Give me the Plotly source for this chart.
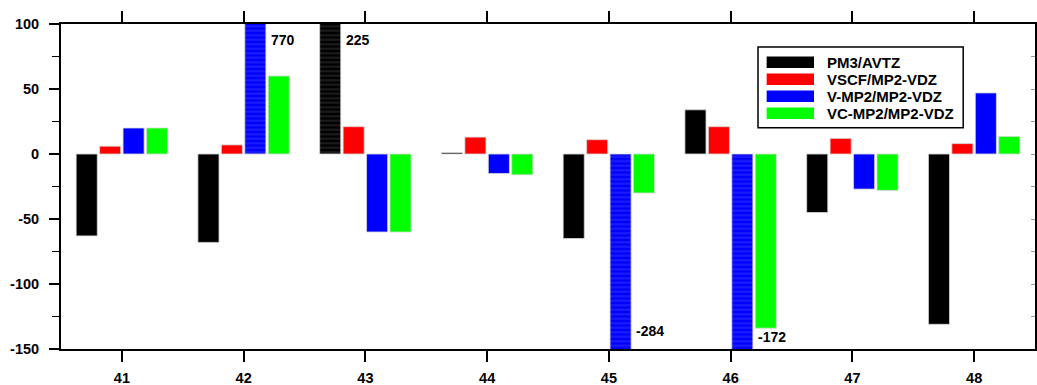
import plotly.graph_objects as go

# Vibrational mode numbers on the x axis
modes = [41, 42, 43, 44, 45, 46, 47, 48]

# Deviations for each method, one list per series
series_names = ["PM3/AVTZ", "VSCF/MP2-VDZ", "V-MP2/MP2-VDZ", "VC-MP2/MP2-VDZ"]
pm3_avtz = [-63, -68, 225, 1, -65, 34, -45, -131]
vscf_mp2 = [6, 7, 21, 13, 11, 21, 12, 8]
vmp2_mp2 = [20, 770, -60, -15, -284, -172, -27, 47]
vcmp2_mp2 = [20, 60, -60, -16, -30, -134, -28, 13.5]

# y tick labels (plain hyphen minus)
y_tickvals = [-150, -100, -50, 0, 50, 100]
y_ticktext = ["-150", "-100", "-50", "0", "50", "100"]

series_values = [pm3_avtz, vscf_mp2, vmp2_mp2, vcmp2_mp2]
colors = ["#000000", "#ff0000", "#0000ff", "#00ff00"]
stripe_colors = ["#3a3a3a", "#ff5555", "#3a3aff", "#55ff55"]

y_min, y_max = -150, 100
bargap, bargroupgap = 0.23, 0.1
font_family = "Liberation Sans, Arial, sans-serif"

fig = go.Figure()
for name, vals, col, scol in zip(series_names, series_values, colors, stripe_colors):
    # bars running past the axis range are drawn striped
    shapes_pat = ["-" if (v > y_max or v < y_min) else "" for v in vals]
    fig.add_trace(go.Bar(
        x=modes, y=vals, name=name, showlegend=False,
        marker=dict(
            color=col,
            line=dict(color="#d8d8d8", width=0.8),
            pattern=dict(shape=shapes_pat, fillmode="overlay", fgcolor=scol,
                         bgcolor=col, size=4.5, solidity=0.45),
        ),
    ))

# empty helper traces so the tick-only overlay axes get drawn
for ax in ("y2", "y3"):
    fig.add_trace(go.Scatter(x=[], y=[], yaxis=ax, showlegend=False,
                             hoverinfo="skip", mode="markers"))

# value labels for bars that leave the axis range
slot = (1 - bargap) / len(series_names)
annotations = []
for si, vals in enumerate(series_values):
    for m, v in zip(modes, vals):
        if v > y_max or v < y_min:
            right_edge = m - (1 - bargap) / 2 + slot * (si + 1) - slot * bargroupgap / 2
            if v > y_max:
                yp, ysh = 1, -15.5
            else:
                # keep the label clear of a neighbouring bar below it
                nxt = series_values[si + 1][modes.index(m)] if si + 1 < len(series_values) else 0
                ysh = 12.5 if nxt < -120 else 18
                yp = 0
            annotations.append(dict(
                x=right_edge, y=yp, xref="x", yref="paper", text=str(v),
                showarrow=False, xanchor="left", yanchor="middle",
                xshift=3, yshift=ysh,
                font=dict(family=font_family, size=14, color="black", weight="bold"),
            ))

# legend drawn as wide swatches inside a framed box
shapes = []
leg_x0, leg_x1 = 0.7156, 0.9263
leg_y0, leg_y1 = 0.681, 0.929
shapes.append(dict(type="rect", xref="paper", yref="paper", x0=leg_x0, x1=leg_x1,
                   y0=leg_y0, y1=leg_y1, line=dict(color="black", width=1.5),
                   fillcolor="white", layer="above"))
row_h = 17 / 325
first_row = 1 - (62.2 - 24) / 325
sw_h = 11.5 / 325
for i, (name, col) in enumerate(zip(series_names, colors)):
    yc = first_row - i * row_h
    shapes.append(dict(type="rect", xref="paper", yref="paper", x0=0.7245, x1=0.7731,
                       y0=yc - sw_h / 2, y1=yc + sw_h / 2, line=dict(width=0),
                       fillcolor=col, layer="above"))
    annotations.append(dict(x=0.7844, y=yc, xref="paper", yref="paper", text=name,
                            showarrow=False, xanchor="left", yanchor="middle",
                            font=dict(family=font_family, size=15, color="black",
                                      weight="bold")))

tick_font = dict(family=font_family, size=14.5, color="black", weight="bold")

fig.update_layout(
    width=1037, height=385,
    margin=dict(l=61, r=2, t=24, b=36, autoexpand=False),
    paper_bgcolor="white", plot_bgcolor="white",
    barmode="group", bargap=bargap, bargroupgap=bargroupgap,
    shapes=shapes, annotations=annotations,
    xaxis=dict(
        range=[40.5, 48.5], tickvals=modes, ticktext=[str(m) for m in modes],
        ticks="outside", ticklen=11, tickwidth=1.5, tickcolor="black",
        showline=True, linewidth=2, linecolor="black", mirror="ticks",
        showgrid=False, zeroline=False, tickfont=tick_font, ticklabelstandoff=4,
        automargin=False,
    ),
    # value labels on the left; the tick marks come from yaxis3
    yaxis=dict(
        range=[y_min, y_max], tickvals=y_tickvals, ticktext=y_ticktext,
        ticks="", ticklen=0,
        showline=True, linewidth=2, linecolor="black", mirror=True,
        showgrid=False, zeroline=False, tickfont=tick_font, ticklabelstandoff=17,
        automargin=False,
    ),
    # small inward ticks on the right frame
    yaxis2=dict(
        overlaying="y", side="right", range=[y_min, y_max], dtick=25, tick0=0,
        ticks="inside", ticklen=4, tickwidth=1, tickcolor="#999999",
        showticklabels=False, showgrid=False, zeroline=False, showline=False,
        automargin=False,
    ),
    # outward major and minor ticks on the left frame
    yaxis3=dict(
        overlaying="y", side="left", range=[y_min, y_max], dtick=50, tick0=0,
        ticks="outside", ticklen=11, tickwidth=1.5, tickcolor="black",
        minor=dict(dtick=25, ticks="outside", ticklen=8, tickwidth=1.2,
                   tickcolor="black", showgrid=False),
        showticklabels=False, showgrid=False, zeroline=False, showline=False,
        automargin=False,
    ),
)

fig.write_html("out.html")
